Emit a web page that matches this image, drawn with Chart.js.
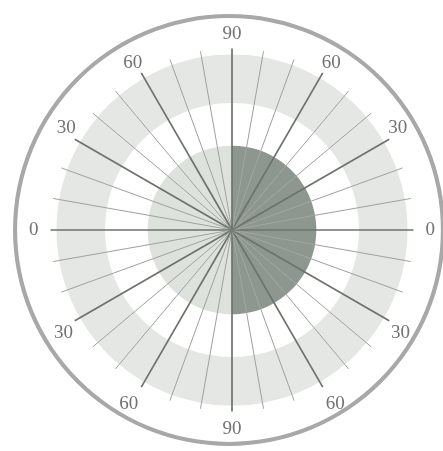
<!DOCTYPE html>
<html lang="en">
<head>
<meta charset="utf-8">
<title>Polar diagram</title>
<script src="https://cdn.jsdelivr.net/npm/chart.js@4.4.1/dist/chart.umd.min.js"></script>
<style>
  html, body { margin: 0; padding: 0; background: #fff; }
  #wrap { position: relative; width: 443px; height: 451px; overflow: hidden; }
  .layer { position: absolute; }
  #frameBox { left: 13px; top: 14px; width: 432px; height: 432px; }
  #polarBox { left: 0; top: 0; width: 443px; height: 451px; }
</style>
</head>
<body>
<div id="wrap">
  <div id="frameBox" class="layer"><canvas id="frameChart"></canvas></div>
  <div id="polarBox" class="layer"><canvas id="polarChart"></canvas></div>
</div>
<script>
// elevation label for each 10° direction, clockwise from the top
const elevationLabels = [
    90, 80, 70, 60, 50, 40, 30, 20, 10,
    0, 10, 20, 30, 40, 50, 60, 70, 80,
    90, 80, 70, 60, 50, 40, 30, 20, 10,
    0, 10, 20, 30, 40, 50, 60, 70, 80
];
// only these get a printed label and a heavy line
const labeledElevations = [0, 30, 60, 90];
// ring outer radii (scale units): hub, inner disk, white band, shaded band
const hubRadius = 4;
const ringRadius = [85, 128, 177];
const scaleMax = 183;
// the outer frame is a single full slice
const frameValues = [1];

(function () {
    'use strict';

    var COLORS = {
        hub: '#5f665f',
        diskDark: '#8e978f',
        diskLight: '#dde2dd',
        band: '#e4e7e4',
        white: '#ffffff',
        lineMajor: '#6c726c',
        lineMinor: '#9da29d',
        label: '#727272',
        frame: '#a7a8a7'
    };

    function isMajor(index) {
        return labeledElevations.indexOf(elevationLabels[index]) !== -1;
    }

    // right half of the disk (arcs 0..17 going clockwise) is the dark one
    function diskColors() {
        var half = elevationLabels.length / 2;
        return elevationLabels.map(function (v, i) {
            return i < half ? COLORS.diskDark : COLORS.diskLight;
        });
    }

    function ringDataset(radius, color) {
        return {
            data: elevationLabels.map(function () { return radius; }),
            backgroundColor: color,
            borderWidth: 0
        };
    }

    // the scanned original is a little taller than wide: lower labels sit further out
    function labelPadding(index) {
        var v = elevationLabels[index];
        var lower = index > 9 && index < 27;
        if (v === 0) return 12;
        if (v === 90) return lower ? 6 : 3;
        if (v === 60) return lower ? 6 : -2;
        return lower ? 2 : -1;
    }

    function initFrameChart() {
        new Chart(document.getElementById('frameChart').getContext('2d'), {
            type: 'doughnut',
            data: {
                labels: ['frame'],
                datasets: [{
                    data: frameValues,
                    backgroundColor: COLORS.frame,
                    borderWidth: 0
                }]
            },
            options: {
                responsive: true,
                maintainAspectRatio: false,
                animation: false,
                cutout: '98.1%',
                plugins: { legend: { display: false }, tooltip: { enabled: false } }
            }
        });
    }

    function initPolarChart() {
        new Chart(document.getElementById('polarChart').getContext('2d'), {
            type: 'polarArea',
            data: {
                labels: elevationLabels.map(String),
                datasets: [
                    // dataset 0 is painted last, so the hub sits on top
                    ringDataset(hubRadius, COLORS.hub),
                    {
                        data: elevationLabels.map(function () { return ringRadius[0]; }),
                        backgroundColor: diskColors(),
                        borderWidth: 0
                    },
                    ringDataset(ringRadius[1], COLORS.white),
                    ringDataset(ringRadius[2], COLORS.band)
                ]
            },
            options: {
                responsive: true,
                maintainAspectRatio: false,
                animation: false,
                layout: {
                    padding: { left: 29, right: 8, top: 22, bottom: 8 }
                },
                plugins: { legend: { display: false }, tooltip: { enabled: false } },
                scales: {
                    r: {
                        min: 0,
                        max: scaleMax,
                        startAngle: 0,
                        ticks: { display: false },
                        grid: { display: false, z: 1 },
                        angleLines: {
                            display: true,
                            color: function (ctx) {
                                return isMajor(ctx.index) ? COLORS.lineMajor : COLORS.lineMinor;
                            },
                            lineWidth: function (ctx) {
                                return isMajor(ctx.index) ? 1.7 : 1;
                            }
                        },
                        pointLabels: {
                            display: true,
                            padding: function (ctx) { return labelPadding(ctx.index); },
                            color: COLORS.label,
                            font: { family: '"Liberation Serif", "DejaVu Serif", serif', size: 19 },
                            callback: function (label, index) {
                                return isMajor(index) ? label : '';
                            }
                        }
                    }
                }
            }
        });
    }

    initFrameChart();
    initPolarChart();
})();
</script>
</body>
</html>
